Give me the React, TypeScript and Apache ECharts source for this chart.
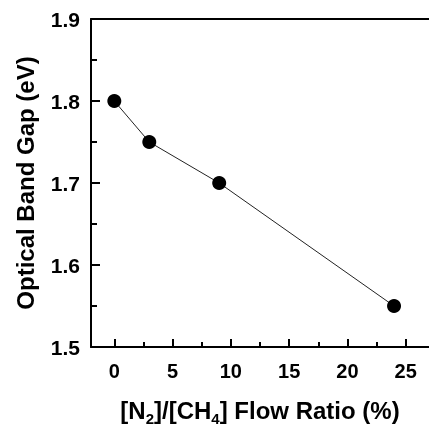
import React, { useEffect, useRef } from 'react';
import * as echarts from 'echarts';

const flowRatio = [0, 3, 9, 24];
const bandGap = [1.8, 1.75, 1.7, 1.55];
const xMajorTicks = [0, 5, 10, 15, 20, 25];
const xMinorTicks = [2.5, 7.5, 12.5, 17.5, 22.5];

export default function App() {
  const ref = useRef<HTMLDivElement>(null);
  useEffect(() => {
    const chart = echarts.init(ref.current!, null, { renderer: 'svg' });
    const font = '"Liberation Sans", Arial, sans-serif';
    const line = { color: '#000', width: 2 };
    const labelStyle = { color: '#000', fontFamily: font, fontWeight: 'bold' as const, fontSize: 20 };
    chart.setOption({
      animation: false,
      grid: { left: 91, top: 19, width: 341, height: 339 },
      xAxis: [
        {
          type: 'value', min: -2, max: 27, position: 'bottom',
          axisLine: { show: true, onZero: false, lineStyle: line },
          axisTick: { show: true, customValues: xMajorTicks, inside: true, length: 8, lineStyle: line },
          axisLabel: { customValues: xMajorTicks, margin: 14, ...labelStyle },
          splitLine: { show: false },
          name: '{b|[N}{s|2}{b|]/[CH}{s|4}{b|] Flow Ratio (%)}',
          nameLocation: 'middle',
          nameGap: 51,
          nameTextStyle: {
            rich: {
              b: { ...labelStyle, fontSize: 24, lineHeight: 27, verticalAlign: 'top' },
              s: { ...labelStyle, fontSize: 15, lineHeight: 15, verticalAlign: 'top', padding: [13, 0, 0, 0] },
            },
          },
        },
        {
          type: 'value', min: -2, max: 27, position: 'bottom',
          axisLine: { show: false },
          axisTick: { show: true, customValues: xMinorTicks, inside: true, length: 5, lineStyle: line },
          axisLabel: { show: false },
          splitLine: { show: false },
        },
        {
          type: 'value', min: -2, max: 27, position: 'top',
          axisLine: { show: true, onZero: false, lineStyle: line },
          axisTick: { show: false },
          axisLabel: { show: false },
          splitLine: { show: false },
        },
      ],
      yAxis: {
        type: 'value', min: 1.5, max: 1.9, interval: 0.1,
        axisLine: { show: true, onZero: false, lineStyle: line },
        axisTick: { show: true, inside: true, length: 9, lineStyle: line },
        minorTick: { show: true, splitNumber: 2, length: 6, lineStyle: line },
        axisLabel: { margin: 11, formatter: (v: number) => v.toFixed(1), ...labelStyle, fontSize: 21 },
        splitLine: { show: false },
        name: 'Optical Band Gap (eV)',
        nameLocation: 'middle',
        nameGap: 54,
        nameTextStyle: { ...labelStyle, fontSize: 24 },
      },
      series: [
        {
          type: 'line',
          xAxisIndex: 0,
          data: flowRatio.map((x, i) => [x, bandGap[i]]),
          symbol: 'circle',
          symbolSize: 14,
          itemStyle: { color: '#000' },
          lineStyle: { color: '#222', width: 1 },
        },
      ],
    });
    return () => chart.dispose();
  }, []);
  return <div ref={ref} style={{ position: 'fixed', left: 0, top: 0, width: 429, height: 431 }} />;
}
